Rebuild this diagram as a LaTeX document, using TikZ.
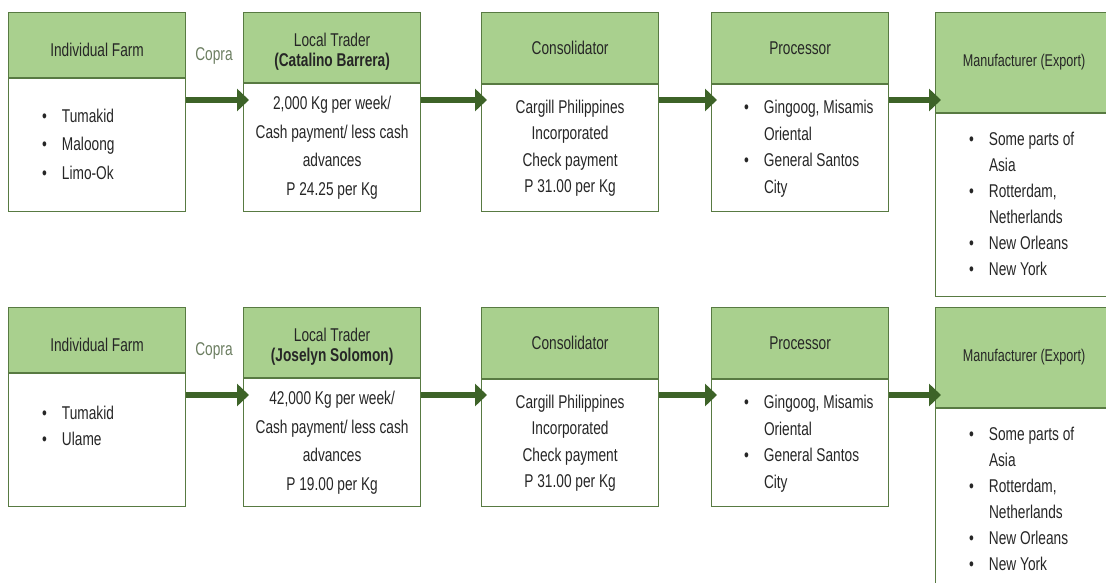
\documentclass[tikz,border=0pt]{standalone}
\usepackage{fontspec}
\setmainfont[FakeStretch=0.74]{Liberation Sans}
\usepackage{tikz}
\usepackage{xcolor}
\usetikzlibrary{positioning}
\usetikzlibrary{calc}
\usetikzlibrary{arrows.meta}

\definecolor{hdrgreen}{HTML}{A9D08E}
\definecolor{boxline}{HTML}{587A42}
\definecolor{flowgreen}{HTML}{3D6328}
\definecolor{copragray}{HTML}{6B7D60}
\definecolor{txtgray}{HTML}{262626}

\tikzset{
  hdr/.style={draw=boxline, line width=1.2pt, fill=hdrgreen, anchor=north west,
    minimum width=177pt, inner sep=0pt, align=center, text=txtgray,
    font=\fontsize{18.5}{19.5}\selectfont},
  bodybox/.style={draw=boxline, line width=1.2pt, fill=white, anchor=north,
    minimum width=177pt, inner sep=0pt, align=center, text=txtgray,
    font=\fontsize{18.5}{28.5}\selectfont},
  bullets/.style={anchor=west, inner sep=0pt, text=txtgray,
    font=\fontsize{18.5}{26.5}\selectfont},
  flow/.style={draw=flowgreen, line width=6pt,
    -{Triangle[width=22pt,length=12pt]}, shorten >=-6pt},
  copra/.style={text=copragray, inner sep=0pt, font=\fontsize{18.5}{20}\selectfont}
}
\newcommand\blist[1]{\begin{tabular}{@{}l@{\hspace{15pt}}l@{}}#1\end{tabular}}
\newcommand\lowered[1]{\raisebox{-5pt}[\height][\depth]{#1}}

\begin{document}
\begin{tikzpicture}[x=1pt,y=-1pt]
\useasboundingbox (0,0) rectangle (1106,583);
\clip (0,0) rectangle (1106,583);

% first chain
\node[hdr, minimum height=65pt] (farm1h) at (8,12) {\lowered{Individual Farm}};
\node[bodybox, minimum height=133pt] (farm1b) at (farm1h.south) {};
\node[bullets, font=\fontsize{18.5}{28.5}\selectfont] (farm1l) at ([xshift=34pt]farm1b.west)
  {\blist{\textbullet & Tumakid\\ \textbullet & Maloong\\ \textbullet & Limo-Ok}};

\node[hdr, minimum height=70pt] (trader1h) at (243,12)
  {\lowered{\begin{tabular}{@{}c@{}}Local Trader\\\textbf{(Catalino Barrera)}\end{tabular}}};
\node[bodybox, minimum height=128pt] (trader1b) at (trader1h.south)
  {2,000 Kg per week/\\Cash payment/ less cash\\advances\\P 24.25 per Kg};

\node[hdr, minimum height=71pt] (cons1h) at (481,12) {Consolidator};
\node[bodybox, minimum height=127pt, font=\fontsize{18.5}{26.5}\selectfont] (cons1b) at (cons1h.south)
  {Cargill Philippines\\Incorporated\\Check payment\\P 31.00 per Kg};

\node[hdr, minimum height=71pt] (proc1h) at (711,12) {Processor};
\node[bodybox, minimum height=127pt] (proc1b) at (proc1h.south) {};
\node[bullets] (proc1l) at ([xshift=33pt]proc1b.west)
  {\blist{\textbullet & Gingoog, Misamis\\ & Oriental\\ \textbullet & General Santos\\ & City}};

\node[hdr, minimum height=100pt, font=\fontsize{17}{20}\selectfont] (manu1h) at (935,12)
  {Manufacturer (Export)};
\node[bodybox, minimum height=183pt] (manu1b) at (manu1h.south) {};
\node[bullets, font=\fontsize{18.5}{26}\selectfont] (manu1l) at ([xshift=34pt]manu1b.west)
  {\blist{\textbullet & Some parts of\\ & Asia\\ \textbullet & Rotterdam,\\ & Netherlands\\
   \textbullet & New Orleans\\ \textbullet & New York}};

\coordinate (r1) at (0,100);
\node[copra] (copra1) at (214,56) {Copra};
\draw[flow] (farm1b.east |- r1) -- (trader1b.west |- r1);
\draw[flow] (trader1b.east |- r1) -- (cons1b.west |- r1);
\draw[flow] (cons1b.east |- r1) -- (proc1b.west |- r1);
\draw[flow] (proc1b.east |- r1) -- (manu1b.west |- r1);

% second chain
\node[hdr, minimum height=65pt] (farm2h) at (8,307) {\lowered{Individual Farm}};
\node[bodybox, minimum height=133pt] (farm2b) at (farm2h.south) {};
\node[bullets] (farm2l) at ([xshift=34pt,yshift=13pt]farm2b.west)
  {\blist{\textbullet & Tumakid\\ \textbullet & Ulame}};

\node[hdr, minimum height=70pt] (trader2h) at (243,307)
  {\lowered{\begin{tabular}{@{}c@{}}Local Trader\\\textbf{(Joselyn Solomon)}\end{tabular}}};
\node[bodybox, minimum height=128pt] (trader2b) at (trader2h.south)
  {42,000 Kg per week/\\Cash payment/ less cash\\advances\\P 19.00 per Kg};

\node[hdr, minimum height=71pt] (cons2h) at (481,307) {Consolidator};
\node[bodybox, minimum height=127pt, font=\fontsize{18.5}{26.5}\selectfont] (cons2b) at (cons2h.south)
  {Cargill Philippines\\Incorporated\\Check payment\\P 31.00 per Kg};

\node[hdr, minimum height=71pt] (proc2h) at (711,307) {Processor};
\node[bodybox, minimum height=127pt] (proc2b) at (proc2h.south) {};
\node[bullets] (proc2l) at ([xshift=33pt]proc2b.west)
  {\blist{\textbullet & Gingoog, Misamis\\ & Oriental\\ \textbullet & General Santos\\ & City}};

\node[hdr, minimum height=100pt, font=\fontsize{17}{20}\selectfont] (manu2h) at (935,307)
  {Manufacturer (Export)};
\node[bodybox, minimum height=183pt] (manu2b) at (manu2h.south) {};
\node[bullets, font=\fontsize{18.5}{26}\selectfont] (manu2l) at ([xshift=34pt]manu2b.west)
  {\blist{\textbullet & Some parts of\\ & Asia\\ \textbullet & Rotterdam,\\ & Netherlands\\
   \textbullet & New Orleans\\ \textbullet & New York}};

\coordinate (r2) at (0,395);
\node[copra] (copra2) at (214,351) {Copra};
\draw[flow] (farm2b.east |- r2) -- (trader2b.west |- r2);
\draw[flow] (trader2b.east |- r2) -- (cons2b.west |- r2);
\draw[flow] (cons2b.east |- r2) -- (proc2b.west |- r2);
\draw[flow] (proc2b.east |- r2) -- (manu2b.west |- r2);

\end{tikzpicture}
\end{document}
